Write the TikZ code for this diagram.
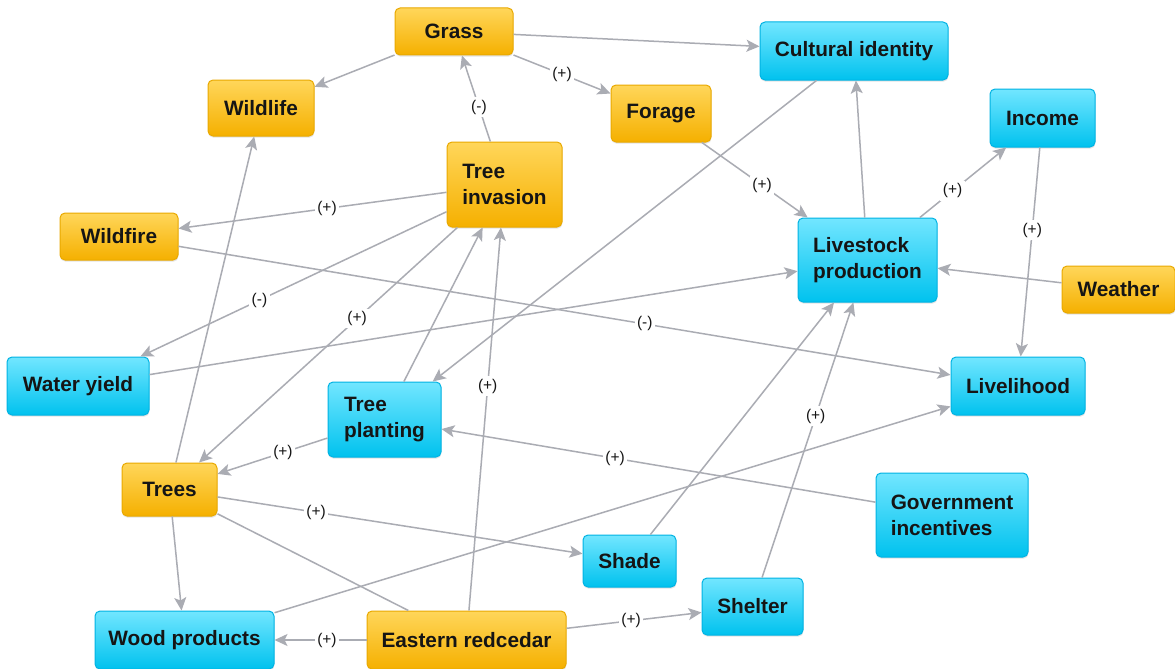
\documentclass[tikz,border=0pt]{standalone}
\usepackage{fontspec}
\setmainfont{Liberation Sans}
\usetikzlibrary{arrows.meta,shadows}

\definecolor{otop}{HTML}{FFD65A}
\definecolor{obot}{HTML}{F5B000}
\definecolor{obord}{HTML}{E9A900}
\definecolor{ctop}{HTML}{72E6FF}
\definecolor{cbot}{HTML}{00C2EE}
\definecolor{cbord}{HTML}{00B3E3}
\definecolor{linkgray}{HTML}{AAACB3}
\definecolor{ink}{HTML}{151515}

\begin{document}
\begin{tikzpicture}[x=1pt,y=-1pt,
  box/.style={rounded corners=5pt, line width=1pt, inner sep=0pt,
    font=\bfseries\fontsize{20.8}{26}\selectfont, text=ink, align=left,
    drop shadow={shadow xshift=0.4pt, shadow yshift=-1.6pt, opacity=0.22}},
  obox/.style={box, draw=obord, top color=otop, bottom color=obot},
  cbox/.style={box, draw=cbord, top color=ctop, bottom color=cbot},
  dim/.style 2 args={minimum width=#1pt, minimum height=#2pt},
  link/.style={draw=linkgray, line width=1.5pt,
    -{Stealth[length=13pt,width=12pt,inset=3pt]}},
  plainlink/.style={draw=linkgray, line width=1.5pt},
  lab/.style={fill=white, inner sep=2.5pt, font=\fontsize{15.5}{17}\selectfont, text=ink}
]
\fill[white] (0,0) rectangle (1175,669);
\useasboundingbox (0,0) rectangle (1175,669);

% factors (orange)
\node[obox, dim={118}{47}] (grass)    at (454,31.5)   {\raisebox{-3pt}{Grass}};
\node[obox, dim={106}{56}] (wildlife) at (261,108)    {Wildlife};
\node[obox, dim={115}{85}] (inv)      at (504.5,184.5){Tree\\invasion};
\node[obox, dim={100}{57}] (forage)   at (661,113.5)  {Forage};
\node[obox, dim={118}{47}] (fire)     at (119,236.5)  {Wildfire};
\node[obox, dim={113}{47}] (weather)  at (1118.5,289.5){Weather};
\node[obox, dim={95}{53}]  (trees)    at (169.5,489.5){Trees};
\node[obox, dim={199}{58}] (cedar)    at (466.5,640)  {Eastern redcedar};

% outcomes and drivers (cyan)
\node[cbox, dim={188}{58}] (culture)  at (854,51)     {Cultural identity};
\node[cbox, dim={105}{58}] (income)   at (1042.5,118) {Income};
\node[cbox, dim={139}{84}] (stock)    at (867.5,260)  {Livestock\\production};
\node[cbox, dim={142}{58}] (water)    at (78,386)     {Water yield};
\node[cbox, dim={113}{75}] (plant)    at (384.5,419.5){Tree\\planting};
\node[cbox, dim={134}{58}] (life)     at (1018,386)   {Livelihood};
\node[cbox, dim={152}{84}] (gov)      at (952,515)    {Government\\incentives};
\node[cbox, dim={93}{52}]  (shade)    at (629.5,561)  {Shade};
\node[cbox, dim={101}{57}] (shelter)  at (752.5,606.5){Shelter};
\node[cbox, dim={179}{58}] (wood)     at (184.5,640)  {Wood products};

% connections
\draw[link] (grass) -- (wildlife);
\draw[link] (grass) -- (culture);
\draw[link] (grass) -- node[lab, pos=0.5] {(+)} (forage);
\draw[link] (inv) -- node[lab, pos=0.40] {(-)} (grass);
\draw[link] (inv) -- node[lab, pos=0.446] {(+)} (fire);
\draw[link] (forage) -- node[lab, pos=0.57] {(+)} (stock);
\draw[link] (culture) -- (plant);
\draw[link] (stock) -- (culture);
\draw[link] (stock) -- node[lab, pos=0.38] {(+)} (income);
\draw[link] (income) -- node[lab, pos=0.395] {(+)} (life);
\draw[link] (weather) -- (stock);
\draw[link] (fire) -- node[lab, pos=0.604] {(-)} (life);
\draw[link] (inv) -- node[lab, pos=0.611] {(-)} (water);
\draw[link] (inv) -- node[lab, pos=0.388] {(+)} (trees);
\draw[link] (water) -- (stock);
\draw[link] (plant) -- (inv);
\draw[link] (cedar) -- node[lab, pos=0.586] {(+)} (inv);
\draw[link] (trees) -- (wildlife);
\draw[link] (plant) -- node[lab, pos=0.405] {(+)} (trees);
\draw[link] (gov) -- node[lab, pos=0.6] {(+)} (plant);
\draw[link] (trees) -- node[lab, pos=0.27] {(+)} (shade);
\draw[link] (trees) -- (wood);
\draw[plainlink] (trees) -- (cedar);
\draw[link] (wood) -- (life);
\draw[link] (shade) -- (stock);
\draw[link] (shelter) -- node[lab, pos=0.587] {(+)} (stock);
\draw[link] (cedar) -- node[lab, pos=0.43] {(+)} (wood);
\draw[link] (cedar) -- node[lab, pos=0.478] {(+)} (shelter);
\end{tikzpicture}
\end{document}
